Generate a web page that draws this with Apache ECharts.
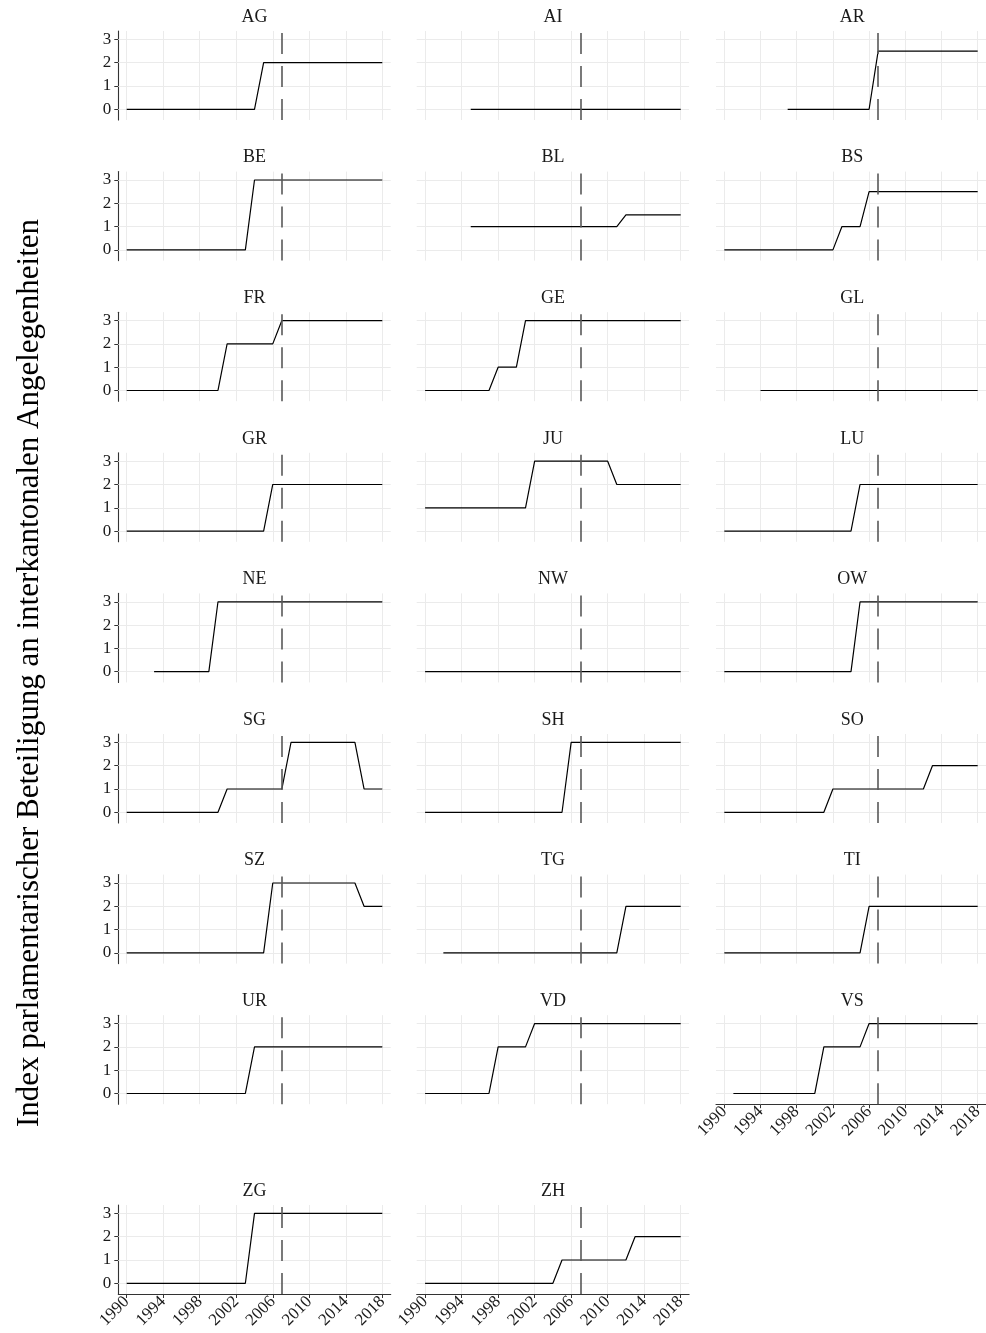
<!DOCTYPE html>
<html>
<head>
<meta charset="utf-8">
<title>Index parlamentarischer Beteiligung</title>
<script src="https://cdn.jsdelivr.net/npm/echarts@6/dist/echarts.min.js"></script>
<style>
  html, body { margin: 0; padding: 0; background: #fff; }
  #main { width: 986px; height: 1333px; }
</style>
</head>
<body>
<div id="main"></div>
<script>
// Jahre 1990 - 2018
let years = [1990, 1991, 1992, 1993, 1994, 1995, 1996, 1997, 1998, 1999,
  2000, 2001, 2002, 2003, 2004, 2005, 2006, 2007, 2008, 2009,
  2010, 2011, 2012, 2013, 2014, 2015, 2016, 2017, 2018]
let xTicks = [1990, 1994, 1998, 2002, 2006, 2010, 2014, 2018]
let yTicks = [0, 1, 2, 3]
let reformYear = 2007   // gestrichelte Linie

let n = null
//         1990                          2000                          2010                      2018
let AG = [0, 0, 0, 0, 0, 0, 0, 0, 0, 0, 0, 0, 0, 0, 0, 2, 2, 2, 2, 2, 2, 2, 2, 2, 2, 2, 2, 2, 2]
let AI = [n, n, n, n, n, 0, 0, 0, 0, 0, 0, 0, 0, 0, 0, 0, 0, 0, 0, 0, 0, 0, 0, 0, 0, 0, 0, 0, 0]
let AR = [n, n, n, n, n, n, n, 0, 0, 0, 0, 0, 0, 0, 0, 0, 0, 2.5, 2.5, 2.5, 2.5, 2.5, 2.5, 2.5, 2.5, 2.5, 2.5, 2.5, 2.5]
let BE = [0, 0, 0, 0, 0, 0, 0, 0, 0, 0, 0, 0, 0, 0, 3, 3, 3, 3, 3, 3, 3, 3, 3, 3, 3, 3, 3, 3, 3]
let BL = [n, n, n, n, n, 1, 1, 1, 1, 1, 1, 1, 1, 1, 1, 1, 1, 1, 1, 1, 1, 1, 1.5, 1.5, 1.5, 1.5, 1.5, 1.5, 1.5]
let BS = [0, 0, 0, 0, 0, 0, 0, 0, 0, 0, 0, 0, 0, 1, 1, 1, 2.5, 2.5, 2.5, 2.5, 2.5, 2.5, 2.5, 2.5, 2.5, 2.5, 2.5, 2.5, 2.5]
let FR = [0, 0, 0, 0, 0, 0, 0, 0, 0, 0, 0, 2, 2, 2, 2, 2, 2, 3, 3, 3, 3, 3, 3, 3, 3, 3, 3, 3, 3]
let GE = [0, 0, 0, 0, 0, 0, 0, 0, 1, 1, 1, 3, 3, 3, 3, 3, 3, 3, 3, 3, 3, 3, 3, 3, 3, 3, 3, 3, 3]
let GL = [n, n, n, n, 0, 0, 0, 0, 0, 0, 0, 0, 0, 0, 0, 0, 0, 0, 0, 0, 0, 0, 0, 0, 0, 0, 0, 0, 0]
let GR = [0, 0, 0, 0, 0, 0, 0, 0, 0, 0, 0, 0, 0, 0, 0, 0, 2, 2, 2, 2, 2, 2, 2, 2, 2, 2, 2, 2, 2]
let JU = [1, 1, 1, 1, 1, 1, 1, 1, 1, 1, 1, 1, 3, 3, 3, 3, 3, 3, 3, 3, 3, 2, 2, 2, 2, 2, 2, 2, 2]
let LU = [0, 0, 0, 0, 0, 0, 0, 0, 0, 0, 0, 0, 0, 0, 0, 2, 2, 2, 2, 2, 2, 2, 2, 2, 2, 2, 2, 2, 2]
let NE = [n, n, n, 0, 0, 0, 0, 0, 0, 0, 3, 3, 3, 3, 3, 3, 3, 3, 3, 3, 3, 3, 3, 3, 3, 3, 3, 3, 3]
let NW = [0, 0, 0, 0, 0, 0, 0, 0, 0, 0, 0, 0, 0, 0, 0, 0, 0, 0, 0, 0, 0, 0, 0, 0, 0, 0, 0, 0, 0]
let OW = [0, 0, 0, 0, 0, 0, 0, 0, 0, 0, 0, 0, 0, 0, 0, 3, 3, 3, 3, 3, 3, 3, 3, 3, 3, 3, 3, 3, 3]
let SG = [0, 0, 0, 0, 0, 0, 0, 0, 0, 0, 0, 1, 1, 1, 1, 1, 1, 1, 3, 3, 3, 3, 3, 3, 3, 3, 1, 1, 1]
let SH = [0, 0, 0, 0, 0, 0, 0, 0, 0, 0, 0, 0, 0, 0, 0, 0, 3, 3, 3, 3, 3, 3, 3, 3, 3, 3, 3, 3, 3]
let SO = [0, 0, 0, 0, 0, 0, 0, 0, 0, 0, 0, 0, 1, 1, 1, 1, 1, 1, 1, 1, 1, 1, 1, 2, 2, 2, 2, 2, 2]
let SZ = [0, 0, 0, 0, 0, 0, 0, 0, 0, 0, 0, 0, 0, 0, 0, 0, 3, 3, 3, 3, 3, 3, 3, 3, 3, 3, 2, 2, 2]
let TG = [n, n, 0, 0, 0, 0, 0, 0, 0, 0, 0, 0, 0, 0, 0, 0, 0, 0, 0, 0, 0, 0, 2, 2, 2, 2, 2, 2, 2]
let TI = [0, 0, 0, 0, 0, 0, 0, 0, 0, 0, 0, 0, 0, 0, 0, 0, 2, 2, 2, 2, 2, 2, 2, 2, 2, 2, 2, 2, 2]
let UR = [0, 0, 0, 0, 0, 0, 0, 0, 0, 0, 0, 0, 0, 0, 2, 2, 2, 2, 2, 2, 2, 2, 2, 2, 2, 2, 2, 2, 2]
let VD = [0, 0, 0, 0, 0, 0, 0, 0, 2, 2, 2, 2, 3, 3, 3, 3, 3, 3, 3, 3, 3, 3, 3, 3, 3, 3, 3, 3, 3]
let VS = [n, 0, 0, 0, 0, 0, 0, 0, 0, 0, 0, 2, 2, 2, 2, 2, 3, 3, 3, 3, 3, 3, 3, 3, 3, 3, 3, 3, 3]
let ZG = [0, 0, 0, 0, 0, 0, 0, 0, 0, 0, 0, 0, 0, 0, 3, 3, 3, 3, 3, 3, 3, 3, 3, 3, 3, 3, 3, 3, 3]
let ZH = [0, 0, 0, 0, 0, 0, 0, 0, 0, 0, 0, 0, 0, 0, 0, 1, 1, 1, 1, 1, 1, 1, 1, 2, 2, 2, 2, 2, 2]

let cantons = ['AG', 'AI', 'AR', 'BE', 'BL', 'BS', 'FR', 'GE', 'GL', 'GR', 'JU', 'LU', 'NE',
  'NW', 'OW', 'SG', 'SH', 'SO', 'SZ', 'TG', 'TI', 'UR', 'VD', 'VS', 'ZG', 'ZH']
let values = [AG, AI, AR, BE, BL, BS, FR, GE, GL, GR, JU, LU, NE,
  NW, OW, SG, SH, SO, SZ, TG, TI, UR, VD, VS, ZG, ZH]

let yTitle = 'Index parlamentarischer Beteiligung an interkantonalen Angelegenheiten'

let font = "'Liberation Serif', 'Times New Roman', serif"
let colLeft = [118.3, 416.7, 716]
let panelW = 272.4
let panelH = 89
let rowTop = r => r < 8 ? 31 + r * 140.6 : 1205

let grids = [], xAxes = [], yAxes = [], series = [], titles = []

// Gitterlinien als markLine (splitLine folgt customValues nicht)
let gridLines = xTicks.map(v => ({ xAxis: v })).concat(yTicks.map(v => ({ yAxis: v })))

cantons.forEach((name, i) => {
  let r = Math.floor(i / 3)
  let c = i % 3
  let top = rowTop(r)
  // Panels mit x-Achse: VS, ZG, ZH
  let bottom = name == 'VS' || name == 'ZG' || name == 'ZH'
  let left = c == 0

  grids.push({ left: colLeft[c], top: top, width: panelW, height: panelH })
  titles.push({
    text: name,
    left: colLeft[c] + panelW / 2,
    top: top - 23,
    textAlign: 'center',
    padding: 0,
    textStyle: { fontFamily: font, fontSize: 18, fontWeight: 'normal', color: '#1a1a1a' }
  })
  xAxes.push({
    type: 'value',
    gridIndex: i,
    min: 1989.08,
    max: 2018.92,
    axisLine: { show: bottom, onZero: false, lineStyle: { color: '#333', width: 1.1 } },
    axisTick: { show: bottom, length: 4, customValues: xTicks, lineStyle: { color: '#333' } },
    axisLabel: {
      show: bottom,
      customValues: xTicks,
      formatter: v => String(v),
      rotate: 45,
      margin: 5,
      fontFamily: font,
      fontSize: 17,
      color: '#1a1a1a'
    },
    splitLine: { show: false }
  })
  yAxes.push({
    type: 'value',
    gridIndex: i,
    min: -0.46,
    max: 3.36,
    axisLine: { show: left, onZero: false, lineStyle: { color: '#333', width: 1.1 } },
    axisTick: { show: left, length: 4, customValues: yTicks, lineStyle: { color: '#333' } },
    axisLabel: {
      show: left,
      customValues: yTicks,
      margin: 7,
      fontFamily: font,
      fontSize: 17,
      color: '#1a1a1a'
    },
    splitLine: { show: false }
  })
  // Hintergrund-Gitter
  series.push({
    type: 'line',
    xAxisIndex: i,
    yAxisIndex: i,
    data: [],
    z: 1,
    markLine: {
      z: 1,
      silent: true,
      symbol: 'none',
      label: { show: false },
      lineStyle: { color: '#ebebeb', width: 1, type: 'solid' },
      data: gridLines
    }
  })
  series.push({
    type: 'line',
    name: name,
    xAxisIndex: i,
    yAxisIndex: i,
    data: years.map((y, k) => [y, values[i][k]]),
    z: 3,
    symbol: 'none',
    showSymbol: false,
    connectNulls: false,
    lineStyle: { color: '#000', width: 1.2 },
    markLine: {
      z: 4,
      silent: true,
      symbol: 'none',
      label: { show: false },
      lineStyle: { color: '#595959', width: 1.6, type: [21, 12] },
      data: [{ xAxis: reformYear }]
    }
  })
})

let myChart = echarts.init(document.getElementById('main'))
myChart.setOption({
  animation: false,
  backgroundColor: '#fff',
  title: titles,
  grid: grids,
  xAxis: xAxes,
  yAxis: yAxes,
  series: series,
  graphic: [{
    type: 'text',
    x: 30,
    y: 673,
    rotation: Math.PI / 2,
    style: {
      text: yTitle,
      fontFamily: font,
      fontSize: 31,
      fill: '#000',
      textAlign: 'center',
      textVerticalAlign: 'middle'
    }
  }]
})
</script>
</body>
</html>
